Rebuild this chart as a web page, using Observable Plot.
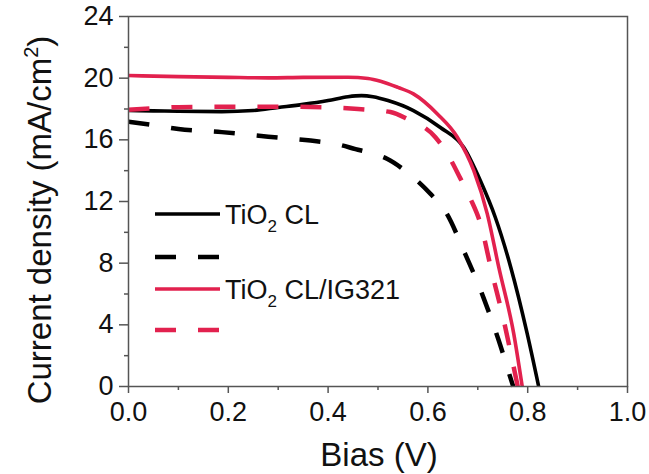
<!DOCTYPE html>
<html><head><meta charset="utf-8">
<script src="https://cdn.jsdelivr.net/npm/d3@7"></script>
<script src="https://cdn.jsdelivr.net/npm/@observablehq/plot@0.6"></script>
<style>body{margin:0;background:#fff}</style>
</head><body><div id="chart"></div>
<script>
// Bias (V) and current density (mA/cm^2)
const clSolidV = [0, 0.05, 0.1, 0.187, 0.25, 0.3, 0.35, 0.4, 0.44, 0.467, 0.49, 0.52, 0.571, 0.625, 0.672, 0.705, 0.735, 0.766, 0.799, 0.822];
const clSolidJ = [17.9, 17.88, 17.85, 17.83, 17.9, 18.1, 18.3, 18.55, 18.8, 18.87, 18.8, 18.55, 17.9, 16.8, 15.5, 13.36, 10.98, 7.74, 3.43, 0];
const clDashV = [0, 0.05, 0.1, 0.187, 0.28, 0.365, 0.42, 0.455, 0.49, 0.518, 0.558, 0.605, 0.638, 0.672, 0.711, 0.742, 0.769, 0.771];
const clDashJ = [17.18, 16.95, 16.7, 16.5, 16.2, 15.95, 15.7, 15.4, 15.1, 14.77, 13.9, 12.5, 11.2, 8.8, 5.8, 2.98, 0.2, 0];
const igSolidV = [0, 0.1, 0.2, 0.28, 0.35, 0.44, 0.48, 0.505, 0.54, 0.571, 0.619, 0.659, 0.692, 0.719, 0.742, 0.772, 0.789];
const igSolidJ = [20.17, 20.1, 20.05, 20.02, 20.05, 20.06, 19.98, 19.8, 19.4, 18.98, 17.68, 16.17, 14.0, 11.2, 7.74, 3.43, 0];
const igDashV = [0, 0.05, 0.1, 0.2, 0.3, 0.4, 0.46, 0.525, 0.558, 0.615, 0.641, 0.665, 0.685, 0.705, 0.729, 0.752, 0.772, 0.78];
const igDashJ = [17.95, 18.05, 18.12, 18.15, 18.15, 18.1, 18.0, 17.8, 17.36, 16.17, 14.98, 13.5, 12.2, 10.6, 7.3, 4.28, 1.25, 0];

const seriesNames = ["TiO2 CL", "", "TiO2 CL/IG321", ""];
const xMajor = [0, 0.2, 0.4, 0.6, 0.8, 1.0];
const xMinor = [0.1, 0.3, 0.5, 0.7, 0.9];
const yMajor = [0, 4, 8, 12, 16, 20, 24];
const yMinor = [2, 6, 10, 14, 18, 22];

const RED = "#e2214e";
const series = [
  {name: seriesNames[0], V: clSolidV, J: clSolidJ, color: "#000", dash: null, w: 3.6},
  {name: seriesNames[1], V: clDashV, J: clDashJ, color: "#000", dash: "21,22", w: 4.5},
  {name: seriesNames[2], V: igSolidV, J: igSolidJ, color: RED, dash: null, w: 3.6},
  {name: seriesNames[3], V: igDashV, J: igDashJ, color: RED, dash: "21,22", w: 4.5}
];

const plot = Plot.plot({
  width: 649, height: 474,
  marginLeft: 128, marginRight: 22, marginTop: 16, marginBottom: 88,
  x: {domain: [0, 1]},
  y: {domain: [0, 24]},
  style: {fontFamily: "'Liberation Sans', Arial, sans-serif", fontSize: "27px", color: "#111", background: "#fff"},
  marks: [
    ...series.map(s => Plot.line(s.V.map((v, i) => ({V: v, J: s.J[i]})), {
      x: "V", y: "J", stroke: s.color, strokeWidth: s.w, strokeDasharray: s.dash,
      strokeLinecap: "butt", curve: "monotone-x"
    })),
    Plot.axisX(xMinor, {tickSize: 4, tickFormat: () => "", stroke: "#555", strokeWidth: 1.5, label: null}),
    Plot.axisX(xMajor, {tickSize: 7, tickPadding: 8, tickFormat: d => d.toFixed(1), stroke: "#555", strokeWidth: 1.5, fill: "#111", label: null}),
    Plot.axisY(yMinor, {tickSize: 4, tickFormat: () => "", stroke: "#555", strokeWidth: 1.5, label: null}),
    Plot.axisY(yMajor, {tickSize: 9, tickPadding: 6, stroke: "#555", strokeWidth: 1.5, fill: "#111", label: null}),
    Plot.frame({stroke: "#555", strokeWidth: 1.5})
  ]
});

const svg = d3.select(plot);
const ff = "'Liberation Sans', Arial, sans-serif";
// y label
const yl = svg.append("text").attr("transform", "translate(51,220) rotate(-90)")
  .attr("text-anchor", "middle").attr("font-size", 33).attr("font-family", ff).attr("fill", "#111");
yl.append("tspan").text("Current density (mA/cm");
yl.append("tspan").attr("font-size", 20).attr("dy", -13).text("2");
yl.append("tspan").attr("dy", 13).text(")");
// x label
svg.append("text").attr("x", 379).attr("y", 466).attr("text-anchor", "middle")
  .attr("font-size", 33).attr("font-family", ff).attr("fill", "#111").text("Bias (V)");
// legend
const rows = [214, 257, 289, 330];
series.forEach((s, i) => {
  const y = rows[i];
  svg.append("line").attr("x1", 155).attr("x2", 220).attr("y1", y).attr("y2", y)
    .attr("stroke", s.color).attr("stroke-width", s.w).attr("stroke-dasharray", s.dash);
  if (s.name) {
    const t = svg.append("text").attr("x", 225).attr("y", y + 10).attr("text-anchor", "start")
      .attr("font-size", 27).attr("font-family", ff).attr("fill", "#111");
    const parts = s.name.split("2");
    t.append("tspan").text(parts[0]);
    t.append("tspan").attr("font-size", 17).attr("dy", 8).text("2");
    t.append("tspan").attr("dy", -8).text(parts.slice(1).join("2"));
  }
});
document.getElementById("chart").appendChild(plot);
</script>
</body></html>
